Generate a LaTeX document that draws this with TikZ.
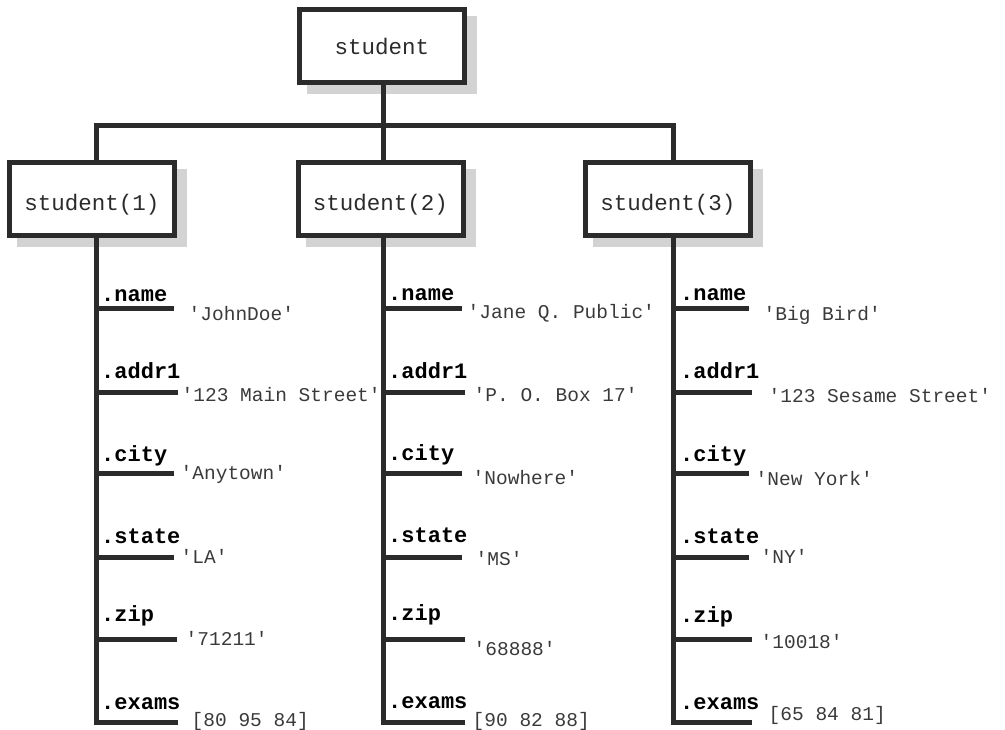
\documentclass[tikz,border=0pt]{standalone}
\usepackage{fontspec}
\newfontfamily\typewriter{Liberation Mono}
\usetikzlibrary{calc}
\pgfdeclarelayer{background}
\pgfsetlayers{background,main}
\definecolor{ink}{HTML}{2B2B2B}
\definecolor{shadowgray}{HTML}{D3D3D3}
\definecolor{valtext}{HTML}{3A3A3A}
\newcommand\sq[1]{\textquotesingle#1\textquotesingle}

\begin{document}
\begin{tikzpicture}[x=1pt,y=-1pt,
  recbox/.style={draw=ink, line width=5pt, fill=white,
    minimum width=165pt, minimum height=73pt, inner sep=0pt},
  boxlabel/.style={font=\typewriter\fontsize{22.5}{27}\selectfont,
    text=ink, inner sep=0pt},
  wire/.style={draw=ink, line width=5pt, line join=miter},
  field/.style={font=\typewriter\bfseries\fontsize{22}{26}\selectfont,
    anchor=base west, inner sep=0pt, text=black},
  value/.style={font=\typewriter\fontsize{19.5}{23}\selectfont,
    anchor=base west, inner sep=0pt, text=valtext},
  boxshadow/.style={fill=shadowgray, draw=none},
]
\useasboundingbox (0,0) rectangle (1005,730);

% structure boxes
\node[recbox] (top) at (382,46) {};
\node[boxlabel] (toplbl) at (top.center) {student};
\node[recbox] (s1) at (92,199) {};
\node[boxlabel] (s1lbl) at ($(s1.center)+(0,6)$) {student(1)};
\node[recbox] (s2) at (380.5,199) {};
\node[boxlabel] (s2lbl) at ($(s2.center)+(0,6)$) {student(2)};
\node[recbox] (s3) at (668,199) {};
\node[boxlabel] (s3lbl) at ($(s3.center)+(0,6)$) {student(3)};

% drop shadows
\begin{pgfonlayer}{background}
  \foreach \b in {top,s1,s2,s3}
    \path[boxshadow] ($(\b.north west)+(10,9)$) rectangle ($(\b.south east)+(10,9)$);
\end{pgfonlayer}

% bus between the root and the three elements
\coordinate (c1) at (96,126);
\coordinate (c2) at (383,126);
\coordinate (c3) at (673,126);
\draw[wire] (c1 |- s1.north) -- (c1) -- (c3) -- (c3 |- s3.north);
\draw[wire] (c2 |- top.south) -- (c2 |- s2.north);

% fields of student(1)
\foreach \k/\ly/\fy/\ex/\vx/\vy/\txt in {
  name/309/301.5/174/188.5/320/{\sq{JohnDoe}},
  addr1/392/378.5/178/181.5/401.5/{\sq{123 Main Street}},
  city/473/461/174/180.5/479.5/{\sq{Anytown}},
  state/557/543/174/180.5/563/{\sq{LA}},
  zip/639/621.5/177/185.5/645/{\sq{71211}},
  exams/722/709/178/191.5/726/{[80 95 84]}}{
  \coordinate (e1\k) at (\ex,\ly);
  \draw[wire] (c1 |- e1\k) -- (e1\k);
  \node[field] (f1\k) at (101,\fy) {.\k};
  \node[value] (v1\k) at (\vx,\vy) {\txt};
}
\draw[wire] (c1 |- s1.south) -- (c1 |- e1exams) -- (e1exams);

% fields of student(2)
\foreach \k/\ly/\fy/\ex/\vx/\vy/\txt in {
  name/309/301/462/467.5/319/{\sq{Jane Q. Public}},
  addr1/392/378/465/473.5/401.5/{\sq{P. O. Box 17}},
  city/473/460/462/472.5/484.5/{\sq{Nowhere}},
  state/557/542/462/475.5/565.5/{\sq{MS}},
  zip/639/620/465/473.5/655/{\sq{68888}},
  exams/722/708/465/472.5/726.5/{[90 82 88]}}{
  \coordinate (e2\k) at (\ex,\ly);
  \draw[wire] (c2 |- e2\k) -- (e2\k);
  \node[field] (f2\k) at (388,\fy) {.\k};
  \node[value] (v2\k) at (\vx,\vy) {\txt};
}
\draw[wire] (c2 |- s2.south) -- (c2 |- e2exams) -- (e2exams);

% fields of student(3)
\foreach \k/\ly/\fy/\ex/\vx/\vy/\txt in {
  name/309/301/749/763.5/320/{\sq{Big Bird}},
  addr1/392/378/752/768.5/402.5/{\sq{123 Sesame Street}},
  city/473/461/749/755.5/485.5/{\sq{New York}},
  state/557/543/749/760.5/563/{\sq{NY}},
  zip/639/622/752/760.5/648/{\sq{10018}},
  exams/722/709/752/768.5/720/{[65 84 81]}}{
  \coordinate (e3\k) at (\ex,\ly);
  \draw[wire] (c3 |- e3\k) -- (e3\k);
  \node[field] (f3\k) at (680,\fy) {.\k};
  \node[value] (v3\k) at (\vx,\vy) {\txt};
}
\draw[wire] (c3 |- s3.south) -- (c3 |- e3exams) -- (e3exams);
\end{tikzpicture}
\end{document}
